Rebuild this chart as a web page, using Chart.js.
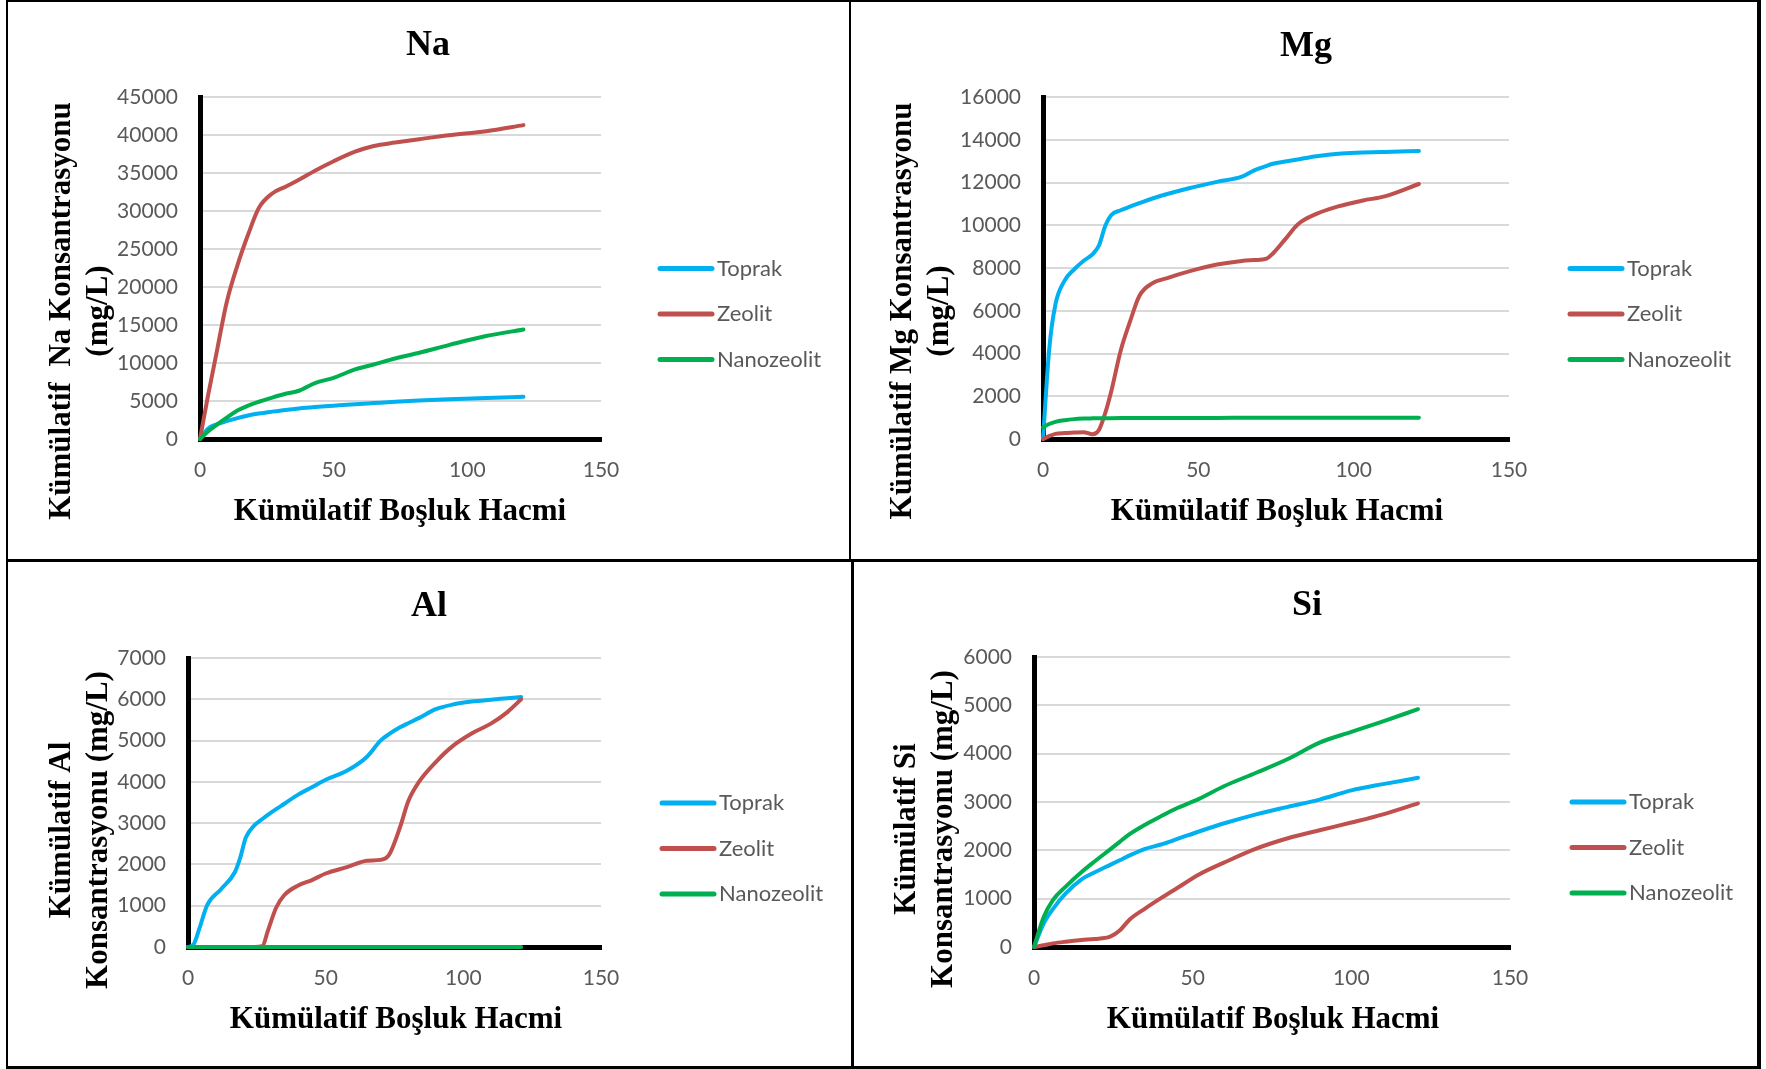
<!DOCTYPE html>
<html>
<head>
<meta charset="utf-8">
<title>Kümülatif Konsantrasyon</title>
<script src="https://cdn.jsdelivr.net/npm/chart.js@4.4.0/dist/chart.umd.min.js"></script>
<style>
  body { margin: 0; background: #fff; }
  #page { position: relative; width: 1766px; height: 1069px; overflow: hidden; background: #fff; }
  #page canvas { position: absolute; left: 0; top: 0; }
  .ln { position: absolute; background: #000; }
</style>
</head>
<body>
<div id="page">
  <canvas id="naChart" width="1766" height="1069"></canvas>
  <canvas id="mgChart" width="1766" height="1069"></canvas>
  <canvas id="alChart" width="1766" height="1069"></canvas>
  <canvas id="siChart" width="1766" height="1069"></canvas>

  <!-- panel frames -->
  <div class="ln" style="left:6px;top:0;width:1755px;height:2px"></div>
  <div class="ln" style="left:6px;top:1066px;width:1755px;height:3px"></div>
  <div class="ln" style="left:6px;top:0;width:2px;height:1069px"></div>
  <div class="ln" style="left:1757px;top:0;width:4px;height:1069px"></div>
  <div class="ln" style="left:6px;top:559px;width:1755px;height:3px"></div>
  <div class="ln" style="left:849px;top:0;width:2px;height:561px"></div>
  <div class="ln" style="left:851px;top:560px;width:3px;height:509px"></div>
</div>

<script>
// Na
var poreNa = [0, 3, 6, 10, 14, 18, 22, 27, 32, 37, 43, 50, 58, 65, 73, 82, 93, 107, 121];
var naToprak = [0, 1350, 1900, 2350, 2750, 3100, 3350, 3600, 3830, 4020, 4200, 4380, 4580, 4730, 4900, 5050, 5220, 5380, 5550];
var naZeolit = [0, 5700, 11000, 18000, 22850, 26900, 30400, 32300, 33200, 34100, 35300, 36550, 37800, 38550, 39000, 39450, 39970, 40500, 41300];
var naNano = [0, 1000, 1800, 2800, 3750, 4400, 4900, 5450, 5950, 6350, 7350, 8050, 9150, 9800, 10600, 11350, 12350, 13550, 14400];

// Mg
var poreMg = [0, 2, 4, 7, 10, 13, 16, 18, 20, 22, 25, 28, 31, 35, 40, 47, 56, 64, 68, 72, 74, 78, 82, 88, 95, 103, 110, 121];
var mgToprak = [0, 4200, 6300, 7420, 7930, 8330, 8650, 9050, 9950, 10480, 10700, 10870, 11030, 11240, 11460, 11730, 12030, 12270, 12570, 12780, 12880, 12980, 13080, 13230, 13350, 13400, 13430, 13470];
var mgZeolit = [0, 130, 240, 280, 300, 320, 220, 420, 1200, 2250, 4130, 5490, 6690, 7270, 7530, 7840, 8160, 8330, 8370, 8440, 8680, 9350, 10040, 10530, 10880, 11160, 11350, 11930];
var mgNano = [550, 700, 800, 880, 930, 955, 965, 970, 972, 975, 977, 979, 980, 982, 984, 986, 988, 990, 991, 992, 992, 993, 994, 995, 996, 997, 998, 1000];

// Al
var poreAl = [0, 2, 4, 7, 12, 17, 19, 21, 24, 27, 29, 32, 35, 40, 45, 50, 58, 65, 70, 73, 77, 80, 84, 90, 96, 103, 110, 116, 121];
var alToprak = [0, 60, 420, 1020, 1400, 1810, 2170, 2650, 2940, 3100, 3200, 3340, 3470, 3690, 3870, 4050, 4280, 4610, 5005, 5155, 5320, 5420, 5550, 5760, 5870, 5945, 5990, 6025, 6055];
var alZeolit = [0, 0, 0, 0, 0, 0, 0, 0, 0, 20, 390, 950, 1260, 1490, 1620, 1780, 1940, 2090, 2110, 2230, 2900, 3530, 4010, 4480, 4860, 5170, 5410, 5690, 6000];
var alNano = [0, 0, 0, 0, 0, 0, 0, 0, 0, 0, 0, 0, 0, 0, 0, 0, 0, 0, 0, 0, 0, 0, 0, 0, 0, 0, 0, 0, 0];

// Si
var poreSi = [0, 3, 6, 10, 15, 19, 24, 27, 30, 35, 40, 45, 52, 60, 70, 80, 90, 100, 110, 121];
var siToprak = [0, 480, 790, 1110, 1400, 1540, 1700, 1795, 1890, 2030, 2120, 2230, 2390, 2560, 2745, 2900, 3050, 3240, 3370, 3500];
var siZeolit = [0, 35, 75, 110, 145, 165, 215, 340, 560, 795, 1010, 1215, 1500, 1750, 2035, 2250, 2415, 2575, 2745, 2970];
var siNano = [0, 610, 975, 1250, 1550, 1765, 2020, 2175, 2330, 2530, 2705, 2870, 3065, 3330, 3605, 3890, 4230, 4450, 4670, 4920];

var seriesNames = ['Toprak', 'Zeolit', 'Nanozeolit'];
var seriesColors = ['#00B0F0', '#C0504D', '#00B050'];
var xTicks = [0, 50, 100, 150];

var YW = 100, XH = 60;
Chart.defaults.font.family = 'Lato';

function pts(xs, ys) {
  return xs.map(function(x, i) { return { x: x, y: ys[i] }; });
}

// titles, axis titles and legend of one panel
var deco = {
  id: 'deco',
  afterDraw: function(chart, args, o) {
    var c = chart.ctx;
    c.save();
    c.fillStyle = '#000';
    c.textAlign = 'center';
    c.textBaseline = 'alphabetic';
    c.font = 'bold 36px "Liberation Serif"';
    c.fillText(o.title, o.titlePos[0], o.titlePos[1]);
    c.font = 'bold 31px "Liberation Serif"';
    c.fillText('Kümülatif Boşluk Hacmi', o.xTitle[0], o.xTitle[1]);
    c.save();
    c.translate(o.yTitle[0], o.yTitle[1]);
    c.rotate(-Math.PI / 2);
    o.yLines.forEach(function(t, i) { c.fillText(t, 0, i * 37); });
    c.restore();

    // legend
    c.textAlign = 'left';
    c.textBaseline = 'middle';
    c.font = '22px Lato';
    c.lineWidth = 5;
    c.lineCap = 'round';
    seriesNames.forEach(function(name, i) {
      var y = o.legend[1] + i * 45.5;
      c.strokeStyle = seriesColors[i];
      c.beginPath();
      c.moveTo(o.legend[0], y);
      c.lineTo(o.legend[2], y);
      c.stroke();
      c.fillStyle = '#595959';
      c.fillText(name, o.legend[2] + 5, y);
    });
    c.restore();
  }
};

function panel(id, xs, ys, yMax, yStep, area, d) {
  var ctx = document.getElementById(id).getContext('2d');
  return new Chart(ctx, {
    type: 'line',
    data: {
      datasets: ys.map(function(vals, i) {
        return {
          label: seriesNames[i],
          data: pts(xs, vals),
          borderColor: seriesColors[i],
          backgroundColor: seriesColors[i],
          order: 2 - i,
          clip: false
        };
      })
    },
    options: {
      responsive: false,
      animation: false,
      events: [],
      layout: {
        padding: { left: area[0] - YW, top: area[1], right: 1766 - area[2], bottom: 1069 - area[3] - XH }
      },
      elements: {
        line: { borderWidth: 4, cubicInterpolationMode: 'monotone', borderCapStyle: 'round', borderJoinStyle: 'round', fill: false },
        point: { radius: 0 }
      },
      scales: {
        x: {
          type: 'linear', min: 0, max: 150,
          afterBuildTicks: function(s) { s.ticks = xTicks.map(function(v) { return { value: v }; }); },
          ticks: { color: '#595959', font: { size: 21 }, padding: 19, maxRotation: 0,
                   callback: function(v) { return String(v); } },
          grid: { display: false, drawTicks: false },
          border: { color: '#000', width: 5 },
          afterFit: function(s) { s.height = XH; }
        },
        y: {
          type: 'linear', min: 0, max: yMax,
          ticks: { stepSize: yStep, color: '#595959', font: { size: 21 }, padding: 22,
                   callback: function(v) { return String(v); } },
          grid: { color: '#d9d9d9', lineWidth: 2, drawTicks: false },
          border: { color: '#000', width: 5 },
          afterFit: function(s) { s.width = YW; }
        }
      },
      plugins: { legend: { display: false }, tooltip: { enabled: false }, deco: d }
    },
    plugins: [deco]
  });
}

var naChart = panel('naChart', poreNa, [naToprak, naZeolit, naNano], 45000, 5000, [200, 97, 601, 439], {
  title: 'Na', titlePos: [428, 55], xTitle: [400, 520],
  yTitle: [70, 311], yLines: ['Kümülatif  Na Konsantrasyonu', '(mg/L)'],
  legend: [660, 268.5, 712]
});

var mgChart = panel('mgChart', poreMg, [mgToprak, mgZeolit, mgNano], 16000, 2000, [1043, 97, 1509, 439], {
  title: 'Mg', titlePos: [1306, 56], xTitle: [1277, 520],
  yTitle: [911, 311], yLines: ['Kümülatif Mg Konsantrasyonu', '(mg/L)'],
  legend: [1570, 268.5, 1622]
});

var alChart = panel('alChart', poreAl, [alToprak, alZeolit, alNano], 7000, 1000, [188, 658, 601, 947], {
  title: 'Al', titlePos: [429, 616], xTitle: [396, 1028],
  yTitle: [70, 830], yLines: ['Kümülatif Al', 'Konsantrasyonu (mg/L)'],
  legend: [662, 803, 714]
});

var siChart = panel('siChart', poreSi, [siToprak, siZeolit, siNano], 6000, 1000, [1034, 657, 1510, 947], {
  title: 'Si', titlePos: [1307, 615], xTitle: [1273, 1028],
  yTitle: [915, 829], yLines: ['Kümülatif Si', 'Konsantrasyonu (mg/L)'],
  legend: [1572, 802, 1624]
});
</script>
</body>
</html>
